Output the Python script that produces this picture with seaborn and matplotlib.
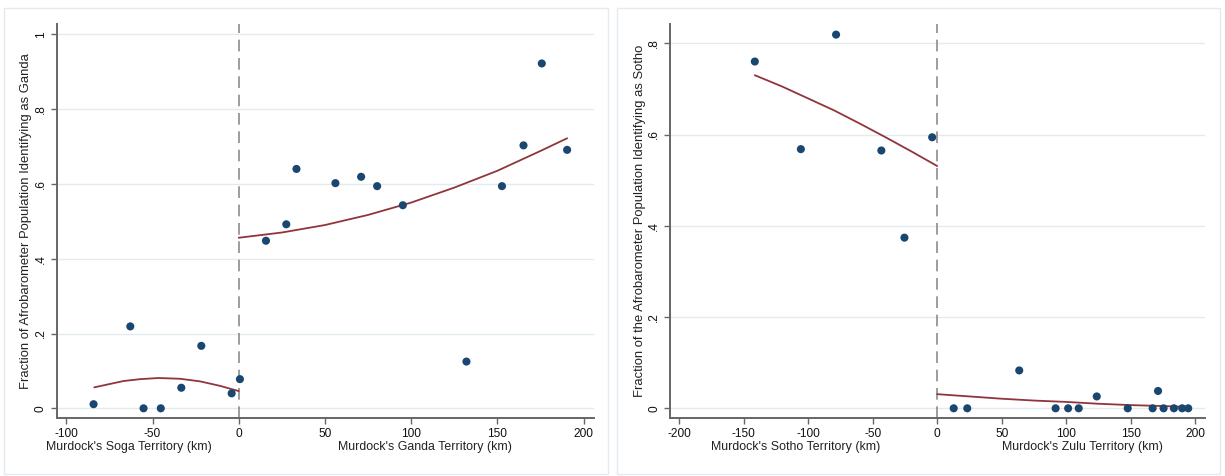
import matplotlib
matplotlib.use("Agg")
import matplotlib.pyplot as plt
import seaborn as sns
import pandas as pd
from matplotlib.patches import Rectangle
from matplotlib.transforms import blended_transform_factory

# ---------------- data: left panel (Soga / Ganda) ----------------
ganda_x = [-84.2, -62.9, -55.2, -45.2, -33.3, -21.7, -4.1, 0.7, 15.8, 27.6,
           33.5, 56.1, 71.0, 80.3, 95.2, 132.1, 152.7, 165.2, 175.8, 190.5]
ganda_y = [0.011, 0.219, 0.0, 0.0, 0.055, 0.167, 0.040, 0.078, 0.448, 0.492,
           0.640, 0.602, 0.619, 0.594, 0.543, 0.125, 0.594, 0.703, 0.922, 0.691]
ganda_fit_left_x = [-83.8, -66.8, -57.1, -46.5, -34.0, -22.4, -10.8, 0.0]
ganda_fit_left_y = [0.056, 0.073, 0.078, 0.081, 0.079, 0.072, 0.060, 0.046]
ganda_fit_right_x = [0, 25, 50, 75, 100, 125, 150, 175, 190.5]
ganda_fit_right_y = [0.456, 0.470, 0.490, 0.517, 0.550, 0.590, 0.635, 0.688, 0.722]
ganda_xticks = [-100, -50, 0, 50, 100, 150, 200]
ganda_yticks = [0, 0.2, 0.4, 0.6, 0.8, 1.0]
ganda_yticklabels = ["0", ".2", ".4", ".6", ".8", "1"]
ganda_ylabel = "Fraction of Afrobarometer Population Identifying as Ganda"
ganda_xlabel_left = "Murdock's Soga Territory (km)"
ganda_xlabel_right = "Murdock's Ganda Territory (km)"

# ---------------- data: right panel (Sotho / Zulu) ----------------
sotho_x = [-141.4, -105.7, -78.4, -43.3, -25.4, -3.9, 12.8, 23.3, 63.6, 91.8,
           101.5, 109.7, 123.7, 147.7, 167.0, 171.2, 175.5, 183.5, 189.9, 194.6]
sotho_y = [0.760, 0.568, 0.819, 0.565, 0.374, 0.594, 0.0, 0.0, 0.083, 0.0,
           0.0, 0.0, 0.026, 0.0, 0.0, 0.038, 0.0, 0.0, 0.0, 0.0]
sotho_fit_left_x = [-141.4, -120, -100, -80, -60, -40, -20, 0]
sotho_fit_left_y = [0.730, 0.705, 0.679, 0.653, 0.624, 0.594, 0.563, 0.531]
sotho_fit_right_x = [0, 25, 50, 75, 100, 125, 150, 175, 194.6]
sotho_fit_right_y = [0.031, 0.026, 0.021, 0.017, 0.014, 0.010, 0.007, 0.005, 0.003]
sotho_xticks = [-200, -150, -100, -50, 0, 50, 100, 150, 200]
sotho_yticks = [0, 0.2, 0.4, 0.6, 0.8]
sotho_yticklabels = ["0", ".2", ".4", ".6", ".8"]
sotho_ylabel = "Fraction of the Afrobarometer Population Identifying as Sotho"
sotho_xlabel_left = "Murdock's Sotho Territory (km)"
sotho_xlabel_right = "Murdock's Zulu Territory (km)"

# ---------------- styling ----------------
sns.set_theme(style="white")
plt.rcParams["font.family"] = ["Liberation Sans", "DejaVu Sans"]

W, H = 1225, 476
NAVY = "#1a476f"
MAROON = "#90353b"
GRID = "#e2ebef"
SPINE = "#666666"
FS_TICK = 8.6
FS_XT = 8.9
FS_YT = 9.4

fig = plt.figure(figsize=(W / 100, H / 100), dpi=100)
fig.patch.set_facecolor("white")

# panel frames
for (x0, x1) in [(4, 608), (617, 1220)]:
    fig.add_artist(Rectangle((x0 / W, (H - 474) / H), (x1 - x0) / W, (474 - 7.5) / H,
                             transform=fig.transFigure, fill=False,
                             ec="#e4eaee", lw=1.0))


def panel(rect, xs, ys, flx, fly, frx, fry, xticks, yticks, yticklabels,
          xlim, ylim, ylabel, xl_left, xl_right, xl_pos, ylab_x):
    ax = fig.add_axes(rect)
    for yt in yticks:
        ax.axhline(yt, color=GRID, lw=1.0, zorder=0)
    ax.axvline(0, color="#8c8c8c", lw=1.2, ls=(0, (7, 4)), zorder=1)
    sns.lineplot(x=flx, y=fly, ax=ax, color=MAROON, lw=1.3, zorder=2)
    sns.lineplot(x=frx, y=fry, ax=ax, color=MAROON, lw=1.3, zorder=2)
    sns.scatterplot(x=xs, y=ys, ax=ax, color=NAVY, s=34, edgecolor="none", zorder=3)
    ax.set_xlim(*xlim)
    ax.set_ylim(*ylim)
    ax.set_xticks(xticks)
    ax.set_xticklabels([str(t) for t in xticks], fontsize=FS_TICK)
    ax.set_yticks(yticks)
    ax.set_yticklabels(yticklabels, fontsize=FS_TICK, rotation=90, va="center")
    ax.tick_params(axis="both", which="both", direction="out", length=4.5,
                   width=1.0, color=SPINE, pad=2.5, bottom=True, left=True,
                   labelcolor="#111111")
    for s in ["top", "right"]:
        ax.spines[s].set_visible(False)
    for s in ["left", "bottom"]:
        ax.spines[s].set_color(SPINE)
        ax.spines[s].set_linewidth(1.4)
    ax.set_xlabel("")
    ax.set_ylabel("")
    ax.grid(False)
    # x-axis titles (two sides)
    tr = blended_transform_factory(ax.transData, fig.transFigure)
    ax.text(xl_pos[0], (H - 447) / H, xl_left, transform=tr, ha="center",
            va="center", fontsize=FS_XT, color="#222222")
    ax.text(xl_pos[1], (H - 447) / H, xl_right, transform=tr, ha="center",
            va="center", fontsize=FS_XT, color="#222222")
    # y-axis title
    fig.text(ylab_x / W, (H - 221.3) / H, ylabel, rotation=90, ha="center",
             va="center", fontsize=FS_YT, color="#222222")
    return ax


# axes rectangles in pixels: left, top, right, bottom
def rect_px(l, t, r, b):
    return [l / W, (H - b) / H, (r - l) / W, (b - t) / H]


panel(rect_px(56.5, 24.3, 593.5, 418.3), ganda_x, ganda_y,
      ganda_fit_left_x, ganda_fit_left_y, ganda_fit_right_x, ganda_fit_right_y,
      ganda_xticks, ganda_yticks, ganda_yticklabels,
      (-105.7, 205.8), (-0.0267, 1.0267), ganda_ylabel,
      ganda_xlabel_left, ganda_xlabel_right, (-63.8, 107.8), 26.5)

panel(rect_px(669.8, 24.3, 1205.0, 418.3), sotho_x, sotho_y,
      sotho_fit_left_x, sotho_fit_left_y, sotho_fit_right_x, sotho_fit_right_y,
      sotho_xticks, sotho_yticks, sotho_yticklabels,
      (-207.3, 207.6), (-0.0219, 0.8416), sotho_ylabel,
      sotho_xlabel_left, sotho_xlabel_right, (-109.5, 112.4), 640.0)

fig.savefig("out.png", dpi=100, facecolor="white")
